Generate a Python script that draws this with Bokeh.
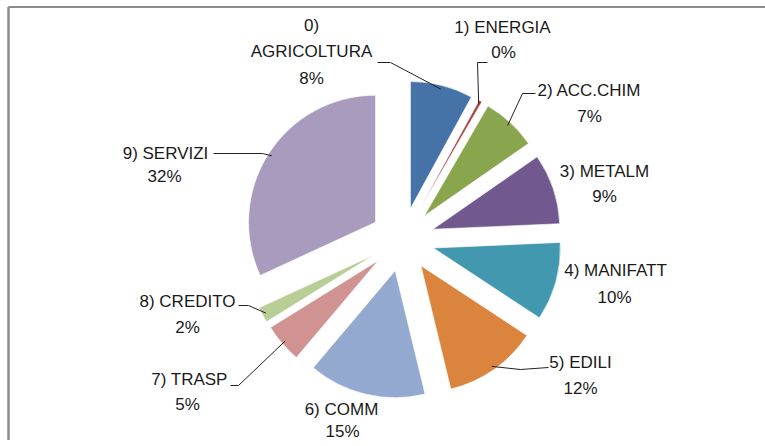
import numpy as np
from bokeh.plotting import figure
from bokeh.models import Range1d, ColumnDataSource
from bokeh.core.properties import value
from bokeh.embed import file_html
from bokeh.resources import INLINE

# ---- data ----
categories = ["0) AGRICOLTURA", "1) ENERGIA", "2) ACC.CHIM", "3) METALM", "4) MANIFATT",
              "5) EDILI", "6) COMM", "7) TRASP", "8) CREDITO", "9) SERVIZI"]
shares = [8, 0.4, 7, 9, 10, 12, 15, 5, 2, 32]
colors = ["#4572A7", "#AA4643", "#89A54E", "#71588F", "#4198AF",
          "#DB843D", "#93A9CF", "#D19392", "#B9CD96", "#A99BBD"]

# ---- layout (page pixel coordinates) ----
W, H = 765, 440
CX, CY = 402, 239      # pie centre
R = 127                # radius
EXPLODE = 32           # explosion offset
FONT = "Liberation Sans"
FS = "17px"

# label line centres: (name line), (percent line)
name_pos = [(311, 51), (502, 27), (589, 90), (604, 171), (615, 270),
            (580, 362), (341, 409), (189, 379), (187, 301), (165, 153)]
pct_pos = [(311, 78), (503, 52), (589, 116), (604, 196), (614, 297),
           (580, 388), (342, 431), (187, 404), (187, 327), (164, 176)]
# leader lines: index -> (elbow, end)
leaders = {0: ((390, 62), (377, 62)),
           1: ((477, 62), (487, 62)),
           2: ((522, 93), (535, 93)),
           5: ((520, 369), (548, 367)),
           7: ((238, 385), (230, 385)),
           8: ((248, 305), (238, 305)),
           9: ((262, 153), (213, 153))}

p = figure(width=W, height=H, output_backend="svg", toolbar_location=None,
           x_range=Range1d(0, W), y_range=Range1d(-H, 0),
           min_border=0)
p.axis.visible = False
p.grid.visible = False
p.outline_line_color = None
p.background_fill_color = "white"
p.border_fill_color = "white"

# frame border (left and top only visible in the reference)
p.segment(x0=[8, 8], y0=[-6.5, -6.5], x1=[8, W], y1=[-H, -6.5],
          line_color="#8c8c8c", line_width=[2.5, 2])

vals = np.array(shares, dtype=float)
frac = vals / vals.sum()
cum = np.concatenate([[0], np.cumsum(frac)])
phi0 = cum[:-1] * 2 * np.pi        # clockwise from top
phi1 = cum[1:] * 2 * np.pi
mid = (phi0 + phi1) / 2
ox = CX + EXPLODE * np.sin(mid)
oy = -(CY - EXPLODE * np.cos(mid))

src = ColumnDataSource(dict(x=ox, y=oy,
                            start=np.pi / 2 - phi1, end=np.pi / 2 - phi0,
                            color=colors))
p.wedge(x="x", y="y", radius=R, start_angle="start", end_angle="end",
        direction="anticlock", fill_color="color", line_color="white",
        line_width=0.6, source=src)

# leader lines
for i, (elbow, end) in leaders.items():
    sx = ox[i] + R * np.sin(mid[i]) * 0.97
    sy = oy[i] + R * np.cos(mid[i]) * 0.97
    p.line([sx, elbow[0], end[0]], [sy, -elbow[1], -end[1]],
           line_color="#222222", line_width=1)

# labels
pcts = [f"{int(round(v * 100))}%" for v in frac]
tx, ty, tt = [], [], []
for i, c in enumerate(categories):
    if i == 0:
        tx += [name_pos[0][0], name_pos[0][0]]
        ty += [-(name_pos[0][1] - 26), -name_pos[0][1]]
        tt += ["0)", "AGRICOLTURA"]
    else:
        tx.append(name_pos[i][0]); ty.append(-name_pos[i][1]); tt.append(c)
    tx.append(pct_pos[i][0]); ty.append(-pct_pos[i][1]); tt.append(pcts[i])
p.text(x=tx, y=ty, text=tt, text_align="center", text_baseline="middle",
       text_font=value(FONT), text_font_size=FS, text_color="#1a1a1a")

open("out.html", "w").write(file_html(p, INLINE))
